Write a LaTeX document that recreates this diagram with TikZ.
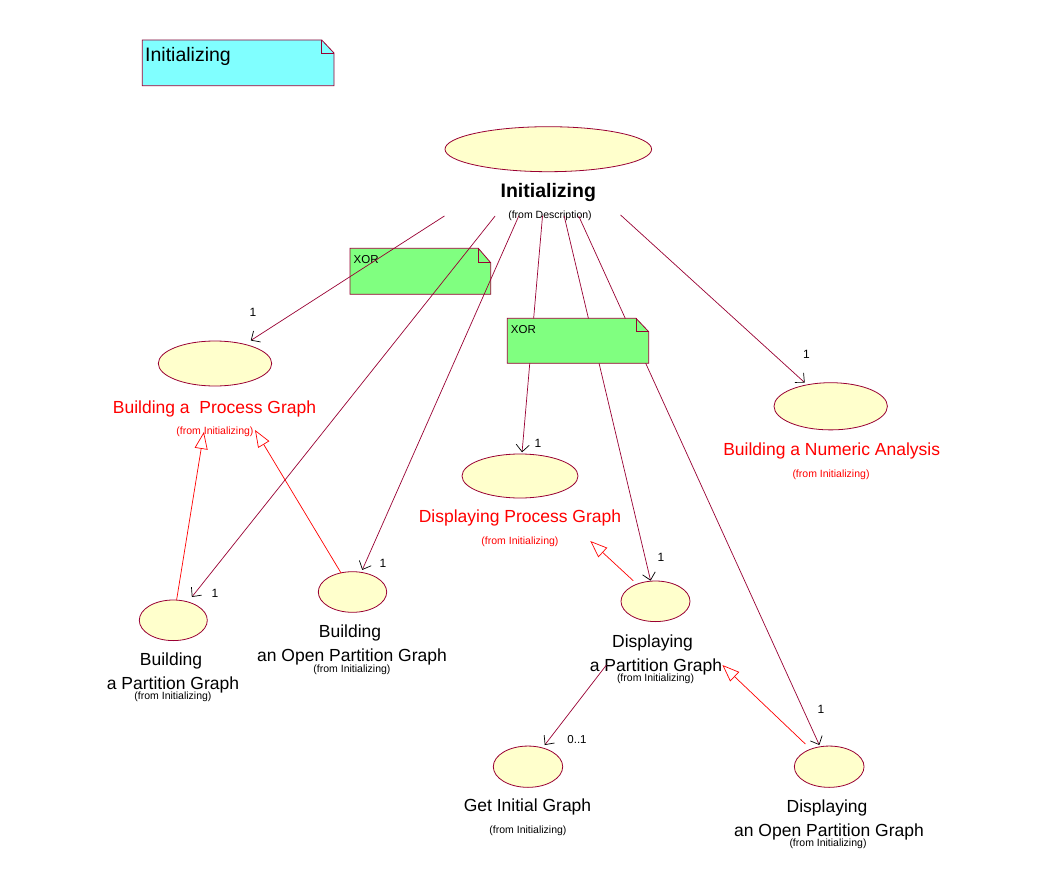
\documentclass[tikz,border=0pt]{standalone}
\usepackage{fontspec}
\setmainfont{Liberation Sans}
\usetikzlibrary{shapes.geometric,arrows.meta}
\definecolor{lineC}{RGB}{153,0,51}
\definecolor{ucfill}{RGB}{255,255,204}
\definecolor{cyanN}{RGB}{128,255,255}
\definecolor{greenN}{RGB}{128,255,128}
\begin{document}
\begin{tikzpicture}[x=1pt,y=-1pt,
  uc/.style={ellipse, draw=lineC, fill=ucfill, inner sep=0, line width=0.8pt},
  lbl/.style={anchor=base, inner sep=0, font=\fontsize{17.5}{20}\selectfont},
  rlbl/.style={lbl, text=red},
  frm/.style={anchor=base, inner sep=0, font=\fontsize{10.5}{12}\selectfont},
  rfrm/.style={frm, text=red},
  mult/.style={inner sep=0, font=\fontsize{12}{14}\selectfont},
  notebox/.style={draw=lineC, line width=0.8pt},
  notetxt/.style={anchor=base west, inner sep=0},
  assoc/.style={draw=lineC, line width=0.7pt, -{Straight Barb[color=black,length=7,width=13]}},
  gen/.style={draw=red, line width=0.7pt, -{Triangle[open,length=17,width=13]}}
]
\useasboundingbox (0,0) rectangle (1046,882);
\fill[white] (0,0) rectangle (1046,882);

% title note
\filldraw[notebox, fill=cyanN] (142.3,40) -- (321.7,40) -- (334,53) -- (334,85.7) -- (142.3,85.7) -- cycle;
\draw[lineC, line width=0.6pt] (321.7,40) -- (321.7,53) -- (334,53);
\node[notetxt, font=\fontsize{19.5}{22}\selectfont] (noteT) at (145,62) {Initializing};

% XOR note 1 (lines pass over it)
\filldraw[notebox, fill=greenN] (350,248.3) -- (478.3,248.3) -- (490.7,262.7) -- (490.7,294.3) -- (350,294.3) -- cycle;
\draw[lineC, line width=0.6pt] (478.3,248.3) -- (478.3,262.7) -- (490.7,262.7);
\node[notetxt, font=\fontsize{11.5}{13}\selectfont] (xor1) at (353.5,264) {XOR};

% use cases
\node[uc, minimum width=206.6pt, minimum height=45pt] (init) at (548.3,149.2) {};
\node[anchor=base, inner sep=0, font=\bfseries\fontsize{19.5}{22}\selectfont] (initL) at (548.3,198) {Initializing};
\node[frm] (initF) at (550,219) {(from Description)};

\node[uc, minimum width=113.4pt, minimum height=45pt] (bpg) at (215,363.5) {};
\node[rlbl] (bpgL) at (214.5,413) {Building a\ \ Process Graph};
\node[rfrm] (bpgF) at (215,434) {(from Initializing)};

\node[uc, minimum width=113.4pt, minimum height=47.2pt] (num) at (830.7,406.3) {};
\node[rlbl] (numL) at (831.7,455) {Building a Numeric Analysis};
\node[rfrm] (numF) at (831,477) {(from Initializing)};

\node[uc, minimum width=116pt, minimum height=44pt] (dpg) at (520,476) {};
\node[rlbl] (dpgL) at (520,522) {Displaying Process Graph};
\node[rfrm] (dpgF) at (520,544) {(from Initializing)};

\node[uc, minimum width=68pt, minimum height=40.6pt] (part) at (173.3,620.3) {};
\node[lbl] (partL1) at (171,665) {Building};
\node[lbl] (partL2) at (173,689) {a Partition Graph};
\node[frm] (partF) at (173,699) {(from Initializing)};

\node[uc, minimum width=68.4pt, minimum height=40.6pt] (open) at (352.5,592) {};
\node[lbl] (openL1) at (350,637) {Building};
\node[lbl] (openL2) at (352,661) {an Open Partition Graph};
\node[frm] (openF) at (352,672) {(from Initializing)};

\node[uc, minimum width=69pt, minimum height=40.6pt] (dpart) at (655.5,601.3) {};
\node[lbl] (dpartL1) at (652.5,647) {Displaying};
\node[lbl] (dpartL2) at (656,671) {a Partition Graph};
\node[frm] (dpartF) at (655.5,681) {(from Initializing)};

\node[uc, minimum width=69.4pt, minimum height=41.3pt] (gig) at (528,766.7) {};
\node[lbl] (gigL) at (527.5,811) {Get Initial Graph};
\node[frm] (gigF) at (528,833) {(from Initializing)};

\node[uc, minimum width=69.7pt, minimum height=41.3pt] (dopen) at (829.2,766.7) {};
\node[lbl] (dopenL1) at (827,812) {Displaying};
\node[lbl] (dopenL2) at (829,836) {an Open Partition Graph};
\node[frm] (dopenF) at (828,846) {(from Initializing)};

% associations from Initializing
\draw[assoc, shorten <=123.5pt, shorten >=42.5pt] (init.center) -- (bpg.center);
\draw[assoc, shorten <=85.4pt, shorten >=29.8pt] (init.center) -- (part.center);
\draw[assoc, shorten <=73pt, shorten >=24.1pt] (init.center) -- (open.center);
\draw[assoc, shorten <=67pt, shorten >=23.8pt] (init.center) -- (dpg.center);
\draw[assoc, shorten <=68.7pt, shorten >=21.2pt] (init.center) -- (dpart.center);
\draw[assoc, shorten <=73.4pt, shorten >=23.8pt] (init.center) -- (dopen.center);
\draw[assoc, shorten <=97.7pt, shorten >=35.1pt] (init.center) -- (num.center);
\draw[assoc, shorten <=80.4pt, shorten >=27.4pt] (dpart.center) -- (gig.center);

% generalizations
\draw[gen, shorten <=20.6pt, shorten >=69.4pt] (part.center) -- (bpg.center);
\draw[gen, shorten <=22.2pt, shorten >=77.6pt] (open.center) -- (bpg.center);
\draw[gen, shorten <=30.3pt, shorten >=95.8pt] (dpart.center) -- (dpg.center);
\draw[gen, shorten <=32.9pt, shorten >=92.4pt] (dopen.center) -- (dpart.center);

% XOR note 2 (covers lines)
\filldraw[notebox, fill=greenN] (507.3,318.3) -- (636,318.3) -- (648.7,331.7) -- (648.7,363.3) -- (507.3,363.3) -- cycle;
\draw[lineC, line width=0.6pt] (636,318.3) -- (636,331.7) -- (648.7,331.7);
\node[notetxt, font=\fontsize{11.5}{13}\selectfont] (xor2) at (510.7,333.3) {XOR};

% multiplicities
\node[mult] (m1) at (253,312) {1};
\node[mult] (m2) at (806.5,354) {1};
\node[mult] (m3) at (538,443) {1};
\node[mult] (m4) at (661,557) {1};
\node[mult] (m5) at (383,563) {1};
\node[mult] (m6) at (215,593) {1};
\node[mult] (m7) at (821,709.5) {1};
\node[mult, font=\fontsize{11.5}{13}\selectfont] (m8) at (577,740) {0..1};
\end{tikzpicture}
\end{document}
